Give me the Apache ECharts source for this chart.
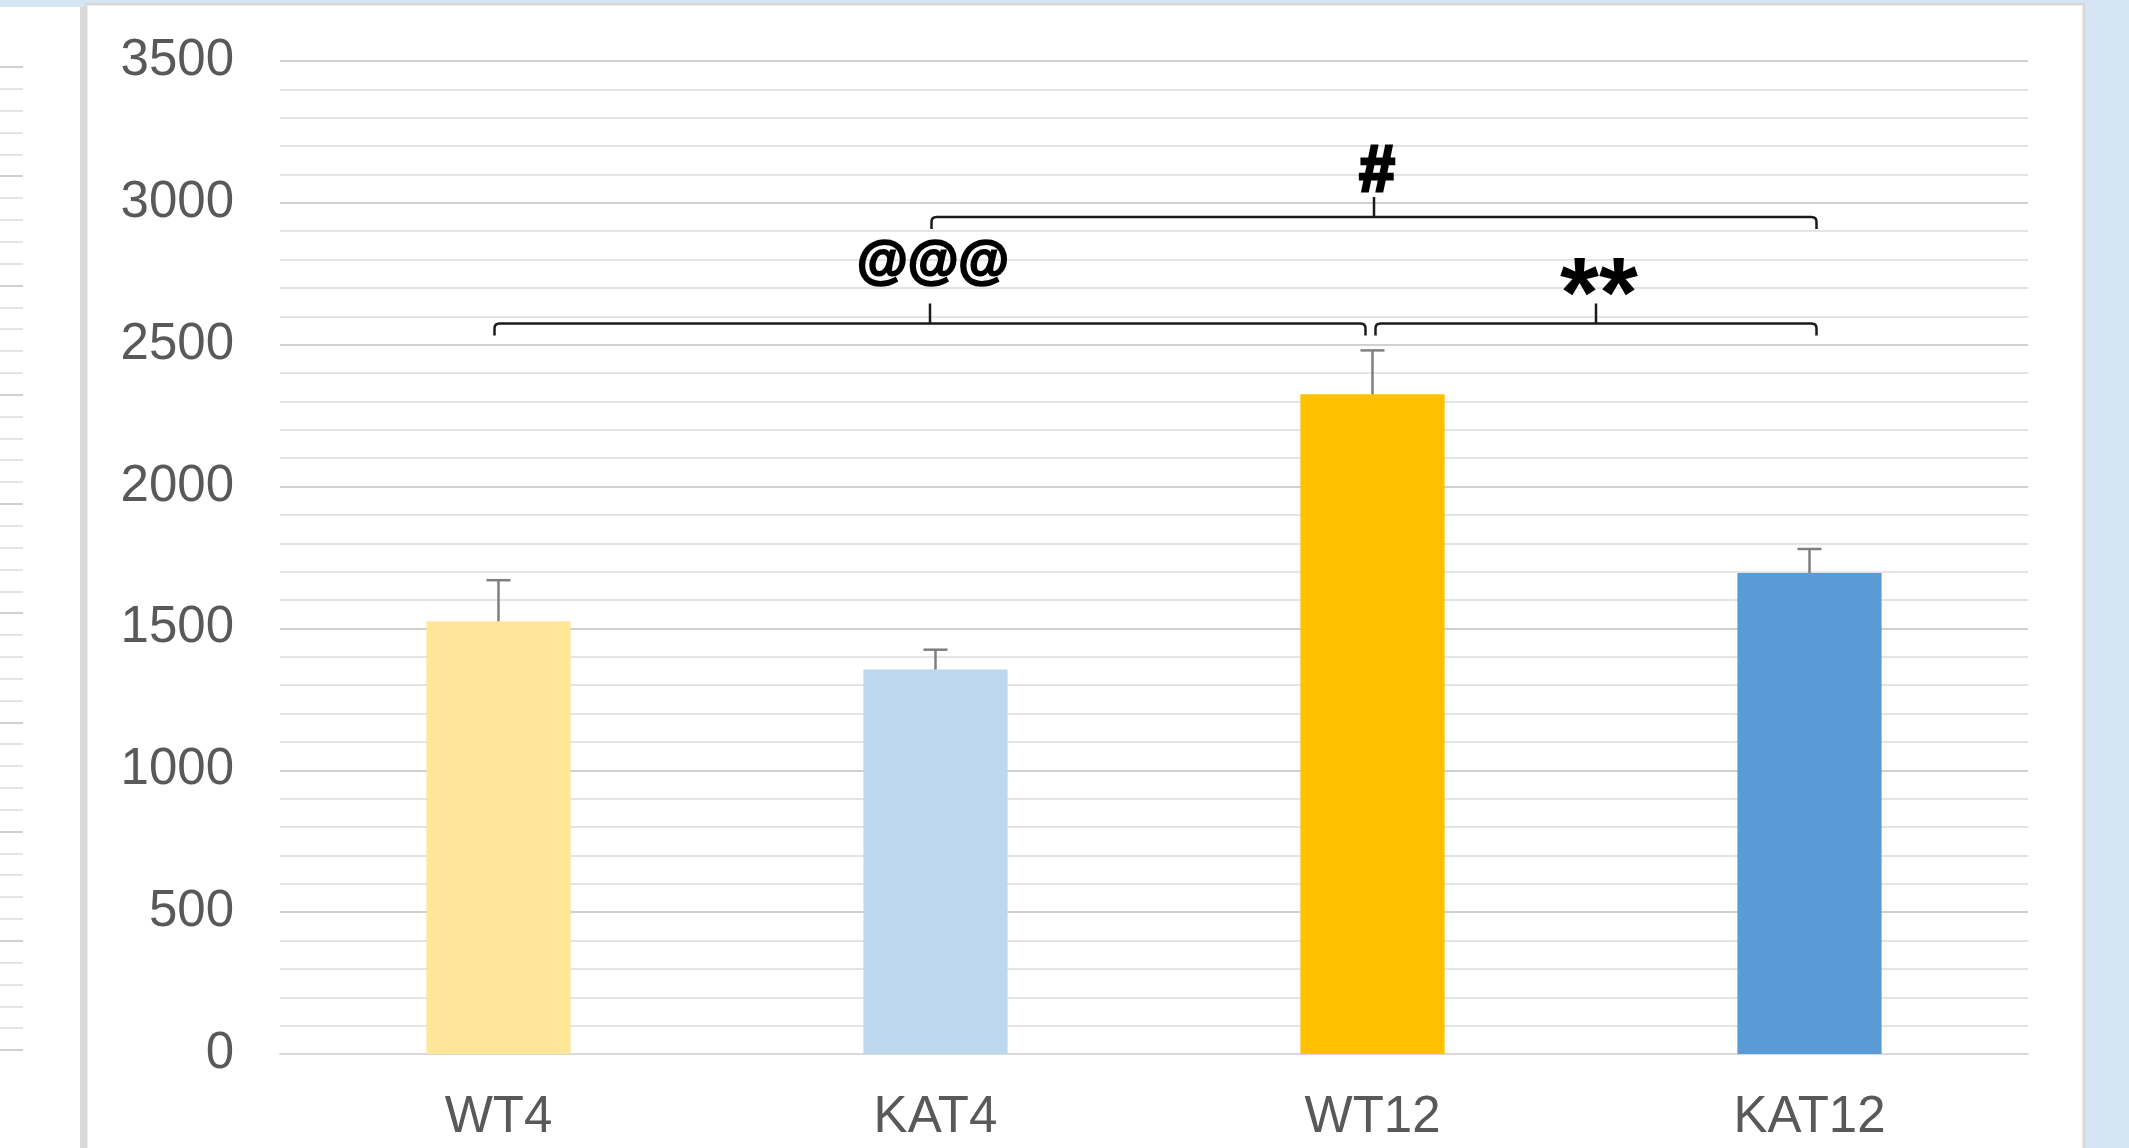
<!DOCTYPE html>
<html>
<head>
<meta charset="utf-8">
<script src="https://cdn.jsdelivr.net/npm/echarts@6/dist/echarts.min.js"></script>
<style>
  html, body { margin: 0; padding: 0; background: #d6e5f3; }
  #chart { width: 2129px; height: 1148px; }
</style>
</head>
<body>
<div id="chart"></div>
<script>
const categories = ['WT4', 'KAT4', 'WT12', 'KAT12']
const means = [1525, 1355, 2325, 1695]
const errors = [145, 70, 155, 85]

// significance brackets: from bar, to bar, height, mark
const bracketFrom = [0, 2, 1]
const bracketTo = [2, 3, 3]
const bracketLevel = [2575, 2575, 2950]
const bracketText = ['@@@', '**', '#']

const barColors = ['#FFE699', '#BDD7EE', '#FFC000', '#5B9BD5']
const markFontSize = [52, 100, 64]
const markDy = [-61, -24, -44]
const markStroke = [2.2, 0, 3]

const FONT = '"Liberation Sans", Arial, sans-serif'

const chart = echarts.init(document.getElementById('chart'))

const option = {
  backgroundColor: '#d6e5f3',
  animation: false,
  graphic: [
    // left neighbour panel
    { type: 'rect', z: -10, shape: { x: -10, y: 7, width: 90, height: 1200 }, style: { fill: '#ffffff' } },
    { type: 'rect', z: -10, shape: { x: 80, y: 7, width: 8, height: 1200 }, style: { fill: '#d9d9d9' } },
    // main panel
    { type: 'rect', z: -10, shape: { x: 86, y: 4, width: 1998, height: 1200 }, style: { fill: '#ffffff', stroke: '#d9d9d9', lineWidth: 3 } }
  ],
  grid: [
    { left: 280, right: 101, top: 61, bottom: 94 },
    { left: 0, width: 23, top: 67, bottom: 98 }
  ],
  xAxis: [
    {
      type: 'category',
      data: categories,
      axisLine: { lineStyle: { color: '#d9d9d9', width: 2 } },
      axisTick: { show: false },
      axisLabel: { color: '#595959', fontSize: 51, fontFamily: FONT, margin: 38 }
    },
    { type: 'value', gridIndex: 1, min: 0, max: 1, show: false }
  ],
  yAxis: [
    {
      type: 'value',
      min: 0,
      max: 3500,
      interval: 500,
      axisLine: { show: false },
      axisTick: { show: false },
      axisLabel: { color: '#595959', fontSize: 51, fontFamily: FONT, margin: 46, formatter: v => String(v) },
      splitLine: { lineStyle: { color: '#d0d0d0', width: 2 } },
      minorTick: { show: false, splitNumber: 5 },
      minorSplitLine: { show: true, lineStyle: { color: '#e4e4e4', width: 2 } }
    },
    {
      type: 'value',
      gridIndex: 1,
      min: 0,
      max: 9,
      interval: 1,
      axisLine: { show: false },
      axisTick: { show: false },
      axisLabel: { show: false },
      splitLine: { lineStyle: { color: '#d0d0d0', width: 2 } },
      minorTick: { show: false, splitNumber: 5 },
      minorSplitLine: { show: true, lineStyle: { color: '#e4e4e4', width: 2 } }
    }
  ],
  series: [
    {
      type: 'bar',
      barWidth: '33%',
      data: means.map((v, i) => ({ value: v, itemStyle: { color: barColors[i] } })),
      z: 2
    },
    {
      type: 'custom',
      z: 3,
      data: means.map((m, i) => [i, m, m + errors[i]]),
      encode: { x: 0, y: [1, 2] },
      renderItem(params, api) {
        const base = api.coord([api.value(0), api.value(1)])
        const top = api.coord([api.value(0), api.value(2)])
        const half = 12
        return {
          type: 'group',
          children: [
            { type: 'line', shape: { x1: top[0], y1: base[1], x2: top[0], y2: top[1] }, style: { stroke: '#7f7f7f', lineWidth: 2.5 } },
            { type: 'line', shape: { x1: top[0] - half, y1: top[1], x2: top[0] + half, y2: top[1] }, style: { stroke: '#7f7f7f', lineWidth: 2.5 } }
          ]
        }
      }
    },
    {
      type: 'custom',
      z: 4,
      data: bracketFrom.map((f, i) => [f, bracketTo[i], bracketLevel[i]]),
      encode: { x: [0, 1], y: 2 },
      renderItem(params, api) {
        const i = params.dataIndex
        const p1 = api.coord([api.value(0), api.value(2)])
        const p2 = api.coord([api.value(1), api.value(2)])
        let x1 = p1[0] - 4, x2 = p2[0] + 7
        const y = p1[1]
        // leave a small gap where two brackets meet on the same bar
        if (bracketTo.some((t, j) => j !== i && t === bracketFrom[i] && bracketLevel[j] === bracketLevel[i])) x1 = p1[0] + 3
        if (bracketFrom.some((f, j) => j !== i && f === bracketTo[i] && bracketLevel[j] === bracketLevel[i])) x2 = p2[0] - 7
        const xm = (x1 + x2) / 2
        const r = 5, drop = 12, tick = 20
        const d = 'M' + x1 + ' ' + (y + drop) + 'L' + x1 + ' ' + (y + r) +
          'Q' + x1 + ' ' + y + ' ' + (x1 + r) + ' ' + y +
          'L' + (x2 - r) + ' ' + y +
          'Q' + x2 + ' ' + y + ' ' + x2 + ' ' + (y + r) +
          'L' + x2 + ' ' + (y + drop) +
          'M' + xm + ' ' + y + 'L' + xm + ' ' + (y - tick)
        return {
          type: 'group',
          children: [
            { type: 'path', shape: { pathData: d }, style: { fill: 'none', stroke: '#1a1a1a', lineWidth: 2.5 } },
            {
              type: 'text',
              style: {
                text: bracketText[i],
                x: xm + 3,
                y: y + markDy[i],
                align: 'center',
                verticalAlign: 'middle',
                font: 'bold ' + markFontSize[i] + 'px ' + FONT,
                fill: '#000000',
                stroke: markStroke[i] ? '#000000' : null,
                lineWidth: markStroke[i]
              }
            }
          ]
        }
      }
    }
  ]
}

chart.setOption(option)
</script>
</body>
</html>
